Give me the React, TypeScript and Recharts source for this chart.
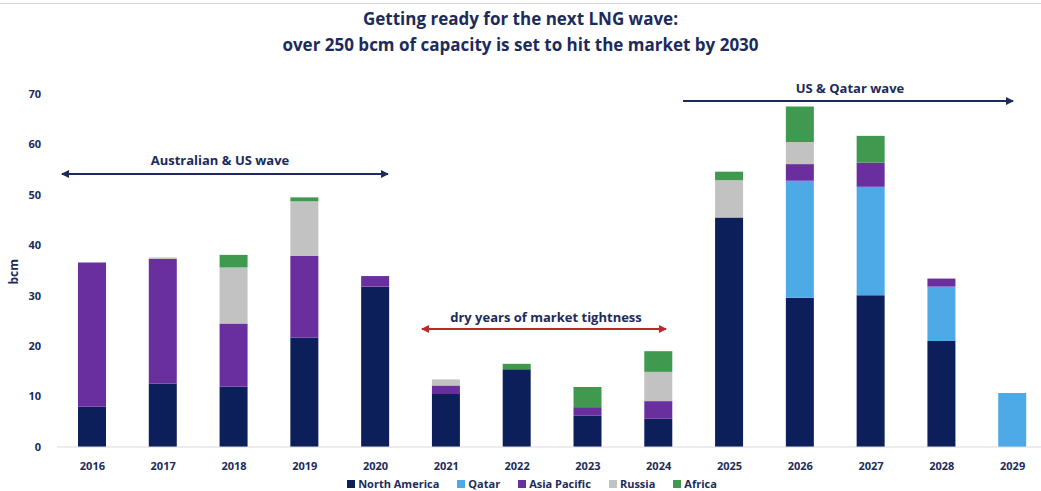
import { BarChart, Bar, XAxis, YAxis, Legend } from 'recharts';

const years = ['2016', '2017', '2018', '2019', '2020', '2021', '2022', '2023', '2024', '2025', '2026', '2027', '2028', '2029'];
const northAmerica = [8, 12.6, 12, 21.7, 31.8, 10.5, 15.4, 6.2, 5.6, 45.5, 29.6, 30.1, 21, 0];
const qatar = [0, 0, 0, 0, 0, 0, 0, 0, 0, 0, 23.2, 21.5, 10.8, 10.7];
const asiaPacific = [28.6, 24.7, 12.5, 16.2, 2.1, 1.7, 0, 1.7, 3.5, 0, 3.3, 4.8, 1.6, 0];
const russia = [0, 0.3, 11.1, 10.8, 0, 1.2, 0, 0, 5.8, 7.4, 4.4, 0, 0, 0];
const africa = [0, 0, 2.5, 0.8, 0, 0, 1.1, 4.0, 4.1, 1.7, 7.0, 5.3, 0, 0];
const yTicks = [0, 10, 20, 30, 40, 50, 60, 70];

const NAVY = '#1c2b5a';
const FONT = '"Open Sans", sans-serif';

const series = [
  { key: 'na', name: 'North America', color: '#0d1f5b' },
  { key: 'qatar', name: 'Qatar', color: '#4eaae6' },
  { key: 'ap', name: 'Asia Pacific', color: '#6a2f9e' },
  { key: 'russia', name: 'Russia', color: '#c2c2c2' },
  { key: 'africa', name: 'Africa', color: '#3f9a50' },
];

const data = years.map((year, i) => ({
  year,
  na: northAmerica[i],
  qatar: qatar[i],
  ap: asiaPacific[i],
  russia: russia[i],
  africa: africa[i],
}));

function LegendContent() {
  return (
    <div style={{ display: 'flex', justifyContent: 'center', gap: 18, paddingTop: 9, paddingLeft: 16, fontSize: 11, fontWeight: 700, color: NAVY, fontFamily: FONT, lineHeight: '12px' }}>
      {series.map((s) => (
        <span key={s.key} style={{ display: 'inline-flex', alignItems: 'center', gap: 3 }}>
          <span style={{ width: 8, height: 8, background: s.color, display: 'inline-block' }} />
          {s.name}
        </span>
      ))}
    </div>
  );
}

function Arrows() {
  return (
    <svg width={1041} height={491} style={{ position: 'absolute', left: 0, top: 0, pointerEvents: 'none' }}>
      <defs>
        <marker id="navyHead" markerWidth="8" markerHeight="8" refX="7" refY="4" orient="auto-start-reverse" markerUnits="userSpaceOnUse">
          <path d="M0,0 L8,4 L0,8 z" fill={NAVY} />
        </marker>
        <marker id="redHead" markerWidth="8" markerHeight="8" refX="7" refY="4" orient="auto-start-reverse" markerUnits="userSpaceOnUse">
          <path d="M0,0 L8,4 L0,8 z" fill="#b52a2a" />
        </marker>
      </defs>
      <line x1={62} y1={174} x2={388} y2={174} stroke={NAVY} strokeWidth={2} markerStart="url(#navyHead)" markerEnd="url(#navyHead)" />
      <text x={220} y={165} textAnchor="middle" fontFamily={FONT} fontWeight={700} fontSize={13} fill={NAVY}>Australian &amp; US wave</text>
      <line x1={422} y1={329} x2={666} y2={329} stroke="#b52a2a" strokeWidth={2} markerStart="url(#redHead)" markerEnd="url(#redHead)" />
      <text x={546} y={322} textAnchor="middle" fontFamily={FONT} fontWeight={700} fontSize={13} fill={NAVY}>dry years of market tightness</text>
      <line x1={683} y1={101} x2={1013} y2={101} stroke={NAVY} strokeWidth={2} markerEnd="url(#navyHead)" />
      <text x={850} y={93} textAnchor="middle" fontFamily={FONT} fontWeight={700} fontSize={13} fill={NAVY}>US &amp; Qatar wave</text>
    </svg>
  );
}

export default function App() {
  return (
    <div style={{ position: 'absolute', left: 0, top: 0, width: 1041, height: 491, overflow: 'hidden', background: '#fff', fontFamily: FONT }}>
      <div style={{ position: 'absolute', left: 0, top: 3, width: 1041, height: 1, background: '#d6d6d6' }} />
      <div style={{ position: 'absolute', left: 0, top: 6, width: 1041, textAlign: 'center', color: NAVY, fontWeight: 700, fontSize: 17, lineHeight: '26px' }}>
        <div>Getting ready for the next LNG wave:</div>
        <div>over 250 bcm of capacity is set to hit the market by 2030</div>
      </div>
      <div style={{ position: 'absolute', left: 0, top: 0 }}>
        <BarChart width={1048} height={491} data={data} margin={{ top: 94, right: 0, left: 0, bottom: 0 }} barSize={28}>
          <XAxis
            dataKey="year"
            tickLine={false}
            axisLine={{ stroke: '#d9d9d9' }}
            tick={{ fill: NAVY, fontSize: 11, fontWeight: 700, fontFamily: FONT }}
            tickMargin={9}
            height={22}
            interval={0}
          />
          <YAxis
            domain={[0, 70]}
            ticks={yTicks}
            axisLine={false}
            tickLine={false}
            width={57}
            tickMargin={10}
            tick={{ fill: NAVY, fontSize: 11, fontWeight: 700, fontFamily: FONT }}
            label={{ value: 'bcm', angle: -90, position: 'insideLeft', offset: 14, dy: 14, fill: NAVY, fontSize: 12, fontWeight: 700, fontFamily: FONT }}
          />
          <Legend verticalAlign="bottom" height={22} content={<LegendContent />} />
          {series.map((s) => (
            <Bar key={s.key} dataKey={s.key} name={s.name} stackId="a" fill={s.color} isAnimationActive={false} />
          ))}
        </BarChart>
      </div>
      <Arrows />
    </div>
  );
}
